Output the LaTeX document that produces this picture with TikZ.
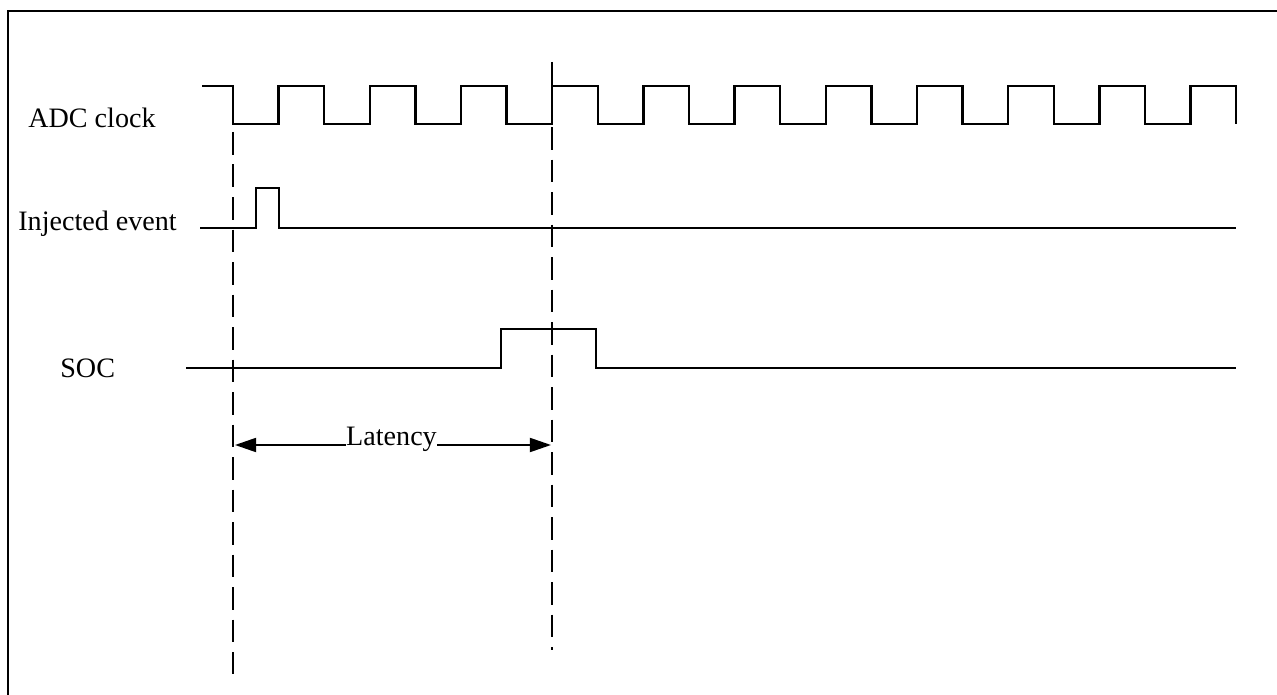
\documentclass[tikz,border=0pt]{standalone}
\usepackage{fontspec}
\setmainfont{Liberation Serif}
\usetikzlibrary{arrows.meta,positioning}
\tikzset{wave/.style={line width=1.4pt,line join=miter},lbl/.style={font=\fontsize{16}{19}\selectfont,inner sep=0pt},guide/.style={line width=0.7pt,dash pattern=on 13pt off 5.5pt},arr/.style={-{Triangle[length=12pt,width=8pt]},line width=1pt}}

\begin{document}
\begin{tikzpicture}[x=0.02cm,y=-0.02cm]
\useasboundingbox (0,0) rectangle (1277,695);
\draw[line width=1.3pt] (8,695)--(8,11)--(1277,11);
\node[lbl,anchor=base west] (adc) at (28,128) {ADC clock};
\node[lbl,anchor=base west] (inj) at (18,231) {Injected event};
\node[lbl,anchor=base west] (soc) at (60,378) {SOC};
% clock, eleven periods
\draw[wave] (202,86) foreach \k in {0,...,10} {--({233+91.2*\k},86)--({233+91.2*\k},124)--({278.6+91.2*\k},124)--({278.6+91.2*\k},86)}--(1236,86)--(1236,124);
\draw[wave] (200,228)--(256,228)--(256,188)--(279,188)--(279,228)--(1236,228);
\draw[wave] (186,368)--(501,368)--(501,329)--(596,329)--(596,368)--(1236,368);
\coordinate (d1a) at (233,132);\coordinate (d1b) at (233,674);
\coordinate (d2a) at (552,62);\coordinate (d2b) at (552,650);
\draw[guide] (d1a)--(d1b);\draw[guide] (d2a)--(d2b);
\node[lbl,anchor=base] (lat) at (391.5,445) {Latency};
\coordinate (l1) at (235,445);\coordinate (l2) at (551,445);
\draw[arr] (lat.base west)--(l1);\draw[arr] (lat.base east)--(l2);
\end{tikzpicture}
\end{document}
